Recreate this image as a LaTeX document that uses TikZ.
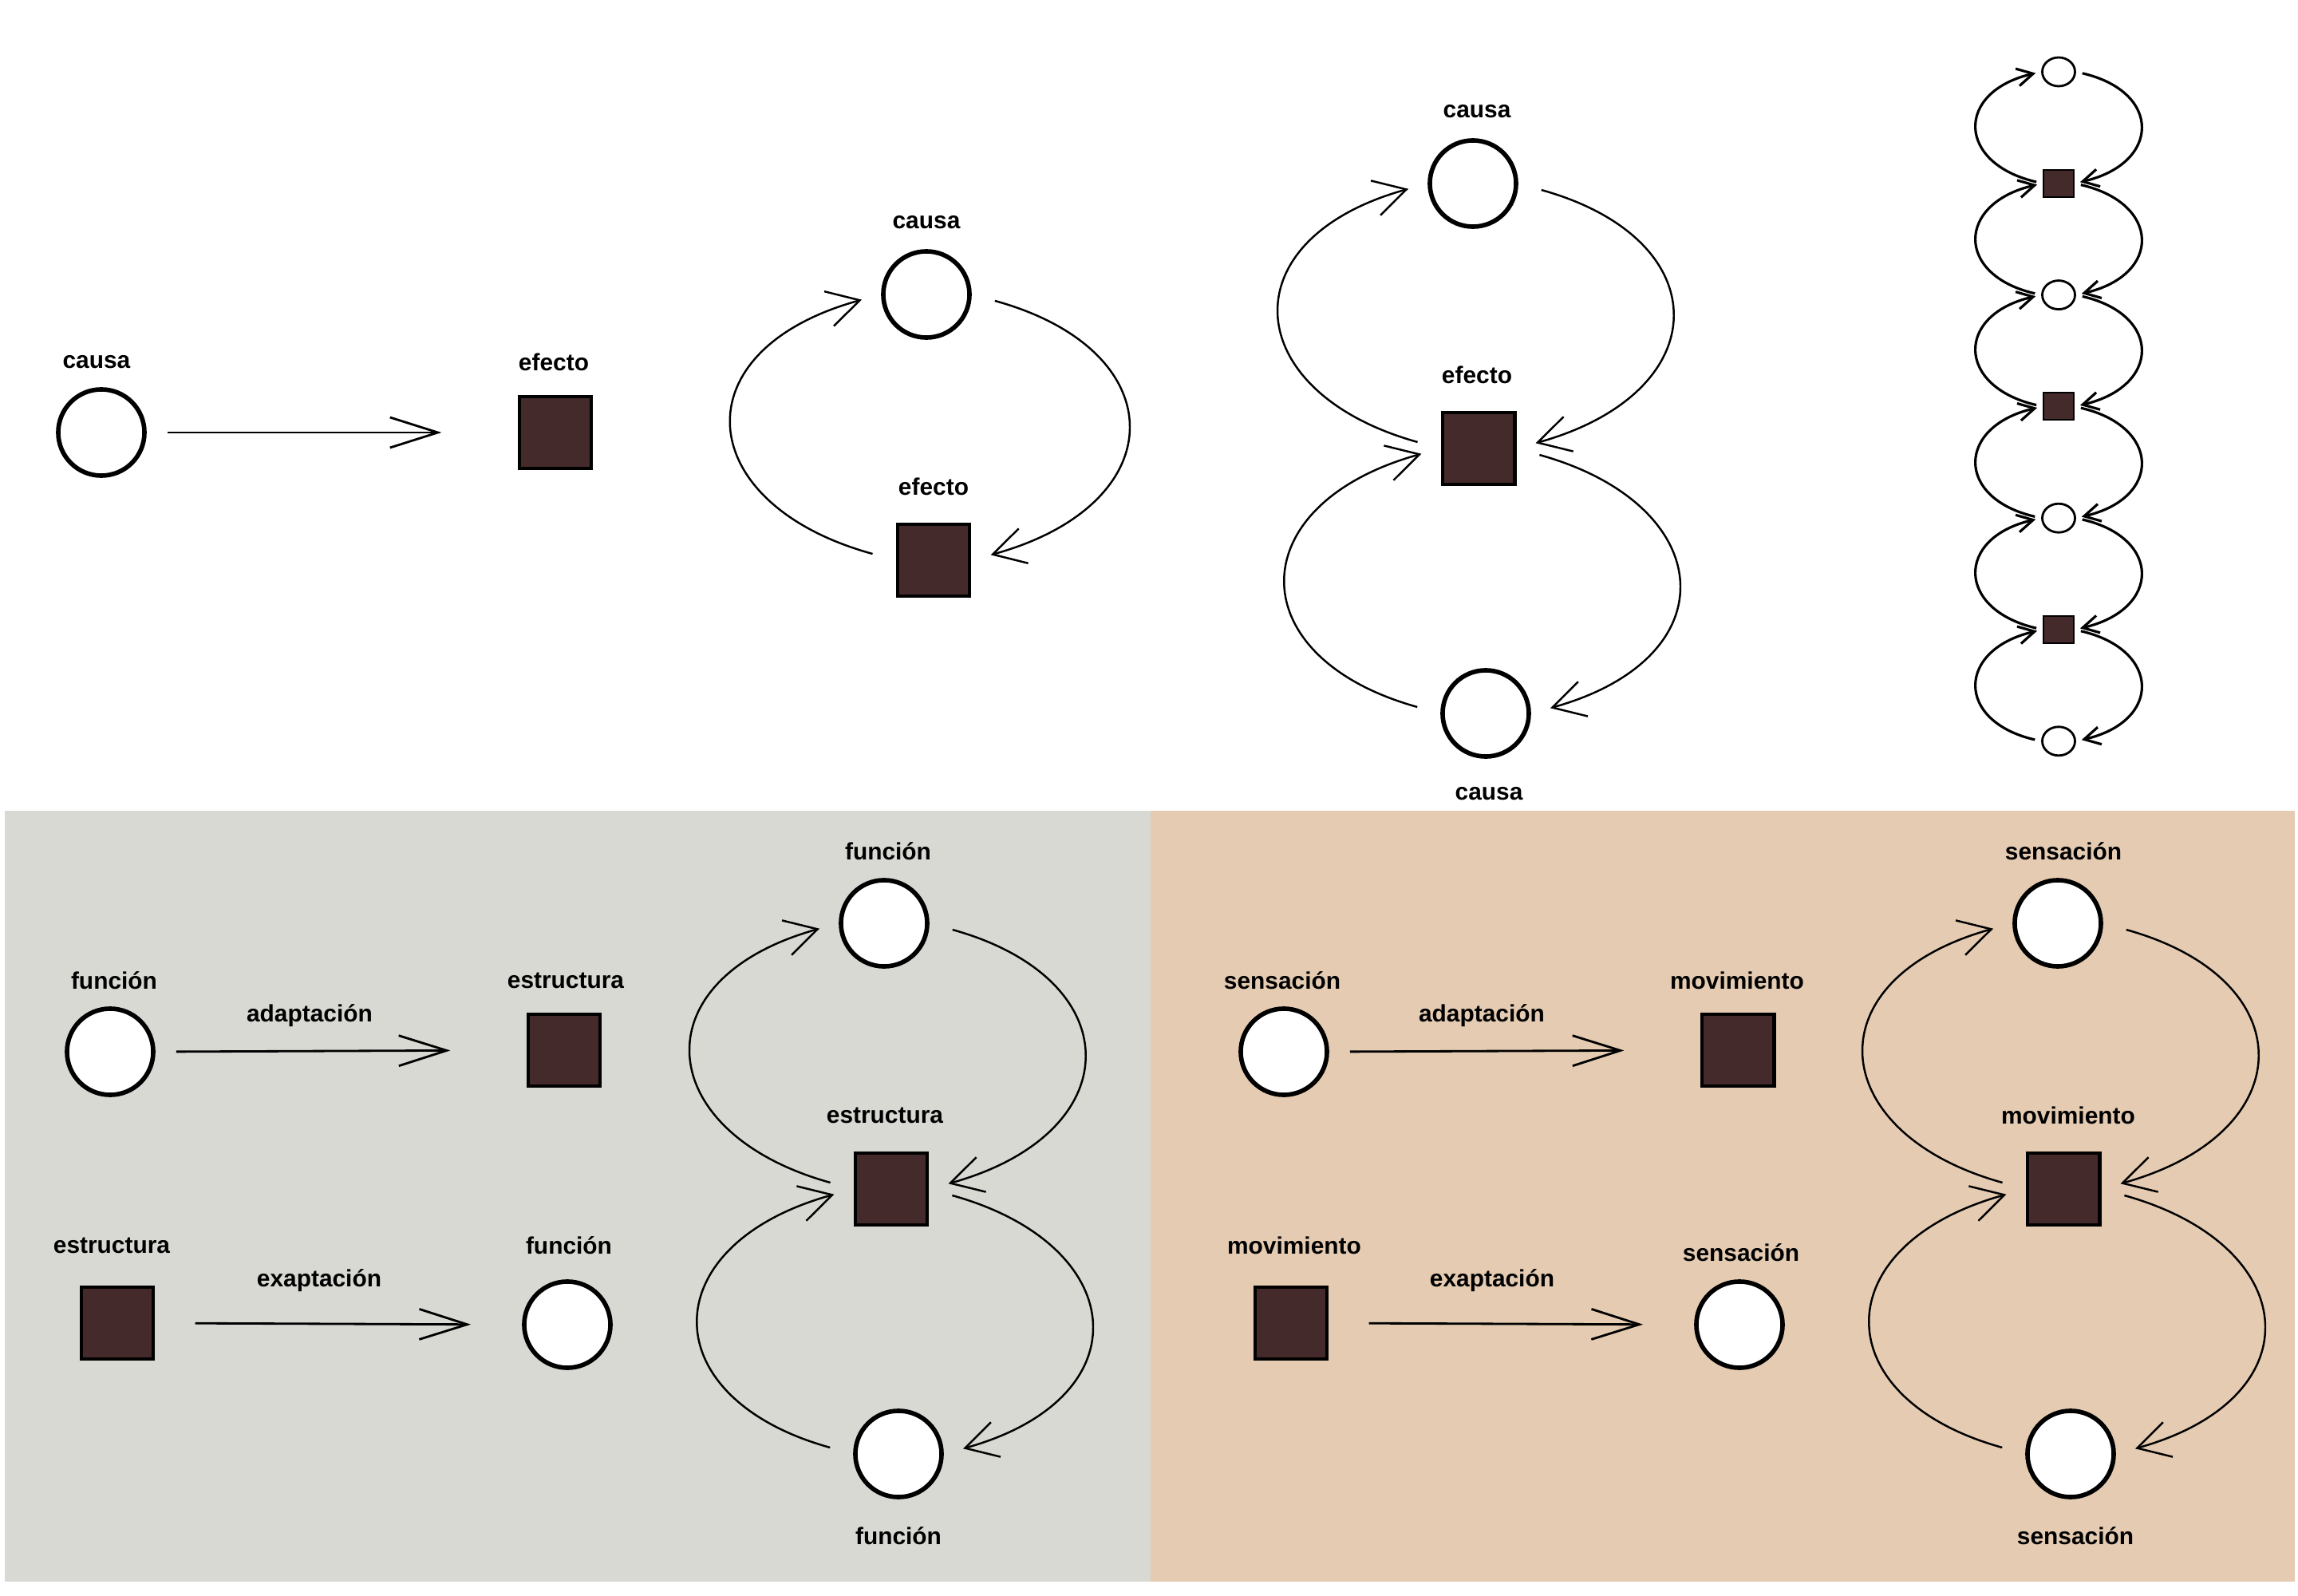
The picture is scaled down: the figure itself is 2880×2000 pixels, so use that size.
\documentclass[tikz,border=0pt]{standalone}
\usepackage{fontspec}
\setmainfont{Liberation Sans}
\usetikzlibrary{arrows.meta,shapes.geometric}
\definecolor{sqbrown}{HTML}{452A2B}
\definecolor{panelgray}{HTML}{D8D9D3}
\definecolor{paneltan}{HTML}{E4CBB2}
\def\bendR[#1](#2)(#3)(#4,#5){\draw[#1] (#2.east) .. controls +(#4,#5) and +(#4,-#5) .. (#3.east);}
\def\bendL[#1](#2)(#3)(#4,#5){\draw[#1] (#2.west) .. controls +(-#4,-#5) and +(-#4,#5) .. (#3.west);}

\begin{document}
\begin{tikzpicture}[x=0.01cm, y=-0.01cm,
	ring/.style={circle, draw, line width=1.6pt, fill=white, minimum size=1.08cm, inner sep=0pt},
	block/.style={rectangle, draw, line width=1.4pt, fill=sqbrown, minimum size=0.9cm, inner sep=0pt},
	smallring/.style={ellipse, draw, line width=0.8pt, fill=white, minimum width=0.41cm, minimum height=0.36cm, inner sep=0pt},
	smallblock/.style={rectangle, draw, line width=0.6pt, fill=sqbrown, minimum width=0.38cm, minimum height=0.34cm, inner sep=0pt},
	lbl/.style={font=\fontsize{8.5}{10}\selectfont\bfseries, inner sep=0pt},
	push/.style={line width=0.8pt, -{Straight Barb[length=0.6cm,width=0.38cm]}},
	loopline/.style={line width=0.7pt, -{Straight Barb[length=0.4cm,width=0.45cm]}, shorten <=0.3cm, shorten >=0.25cm},
	chainline/.style={line width=0.9pt, -{Straight Barb[length=0.2cm,width=0.22cm]}, shorten <=0.08cm, shorten >=0.07cm}]
		%%%%% START %%%%%
		
		\useasboundingbox (0,0) rectangle (2880,2000);
		\fill[white] (0,0) rectangle (2880,2000);
		\fill[panelgray] (6,1016) rectangle (1442,1982);
		\fill[paneltan] (1442,1016) rectangle (2876,1982);
		
		% causa -> efecto
		\node[ring] (c1) at (127,542) {};
		\node[lbl] (lc1) at (121,454) {causa};
		\node[block] (e1) at (696,542) {};
		\node[lbl] (le1) at (694,454) {efecto};
		\draw[push, shorten <=0.26cm, shorten >=0.95cm] (c1.east) -- (e1.west);
		
		% causa <-> efecto
		\node[ring] (c2) at (1161,369) {};
		\node[lbl] (lc2) at (1161,279) {causa};
		\node[block] (e2) at (1170,702) {};
		\node[lbl] (le2) at (1170,610) {efecto};
		\bendR[loopline](c2)(e2)(255,70)
		\bendL[loopline](e2)(c2)(255,70)
		
		% causa - efecto - causa
		\node[ring] (c3) at (1846,230) {};
		\node[lbl] (lc3) at (1851,140) {causa};
		\node[block] (e3) at (1853,562) {};
		\node[lbl] (le3) at (1851,470) {efecto};
		\node[ring] (c4) at (1862,894) {};
		\node[lbl] (lc4) at (1866,995) {causa};
		\bendR[loopline](c3)(e3)(252,70)
		\bendL[loopline](e3)(c3)(252,70)
		\bendR[loopline](e3)(c4)(252,70)
		\bendL[loopline](c4)(e3)(252,70)
		
		% chain
		\foreach \i/\s in {0/smallring,1/smallblock,2/smallring,3/smallblock,4/smallring,5/smallblock,6/smallring}
			\node[\s] (k\i) at (2580,90+139.8*\i) {};
		\foreach \i in {0,...,5}{
			\pgfmathtruncatemacro\j{\i+1}
			\bendR[chainline](k\i)(k\j)(108,25)
			\bendL[chainline](k\j)(k\i)(108,25)
		}
		
		% funcion / estructura
		\node[ring] (f1) at (138,1318) {};
		\node[lbl] (lf1) at (143,1229) {función};
		\node[block] (s1) at (707,1316) {};
		\node[lbl] (ls1) at (709,1229) {estructura};
		\node[lbl] (ad1) at (388,1273) {adaptación};
		\draw[push, shorten <=0.26cm, shorten >=0.95cm] (f1.east) -- (s1.west);
		
		\node[block] (s2) at (147,1658) {};
		\node[lbl] (ls2) at (140,1561) {estructura};
		\node[ring] (f2) at (711,1660) {};
		\node[lbl] (lf2) at (713,1561) {función};
		\node[lbl] (ex1) at (400,1605) {exaptación};
		\draw[push, shorten <=0.5cm, shorten >=0.64cm] (s2.east) -- (f2.west);
		
		\node[ring] (f3) at (1108,1157) {};
		\node[lbl] (lf3) at (1113,1067) {función};
		\node[block] (s3) at (1117,1490) {};
		\node[lbl] (ls3) at (1109,1398) {estructura};
		\node[ring] (f4) at (1126,1822) {};
		\node[lbl] (lf4) at (1126,1925) {función};
		\bendR[loopline](f3)(s3)(252,70)
		\bendL[loopline](s3)(f3)(252,70)
		\bendR[loopline](s3)(f4)(252,70)
		\bendL[loopline](f4)(s3)(252,70)
		
		% sensacion / movimiento
		\node[ring] (se1) at (1609,1318) {};
		\node[lbl] (lse1) at (1607,1229) {sensación};
		\node[block] (mo1) at (2178,1316) {};
		\node[lbl] (lmo1) at (2177,1229) {movimiento};
		\node[lbl] (ad2) at (1857,1273) {adaptación};
		\draw[push, shorten <=0.26cm, shorten >=0.95cm] (se1.east) -- (mo1.west);
		
		\node[block] (mo2) at (1618,1658) {};
		\node[lbl] (lmo2) at (1622,1561) {movimiento};
		\node[ring] (se2) at (2180,1660) {};
		\node[lbl] (lse2) at (2182,1570) {sensación};
		\node[lbl] (ex2) at (1870,1605) {exaptación};
		\draw[push, shorten <=0.5cm, shorten >=0.64cm] (mo2.east) -- (se2.west);
		
		\node[ring] (se3) at (2579,1157) {};
		\node[lbl] (lse3) at (2586,1067) {sensación};
		\node[block] (mo3) at (2586,1490) {};
		\node[lbl] (lmo3) at (2592,1398) {movimiento};
		\node[ring] (se4) at (2595,1822) {};
		\node[lbl] (lse4) at (2601,1925) {sensación};
		\bendR[loopline](se3)(mo3)(252,70)
		\bendL[loopline](mo3)(se3)(252,70)
		\bendR[loopline](mo3)(se4)(252,70)
		\bendL[loopline](se4)(mo3)(252,70)
		
		%%%%% END %%%%%
\end{tikzpicture}
\end{document}
